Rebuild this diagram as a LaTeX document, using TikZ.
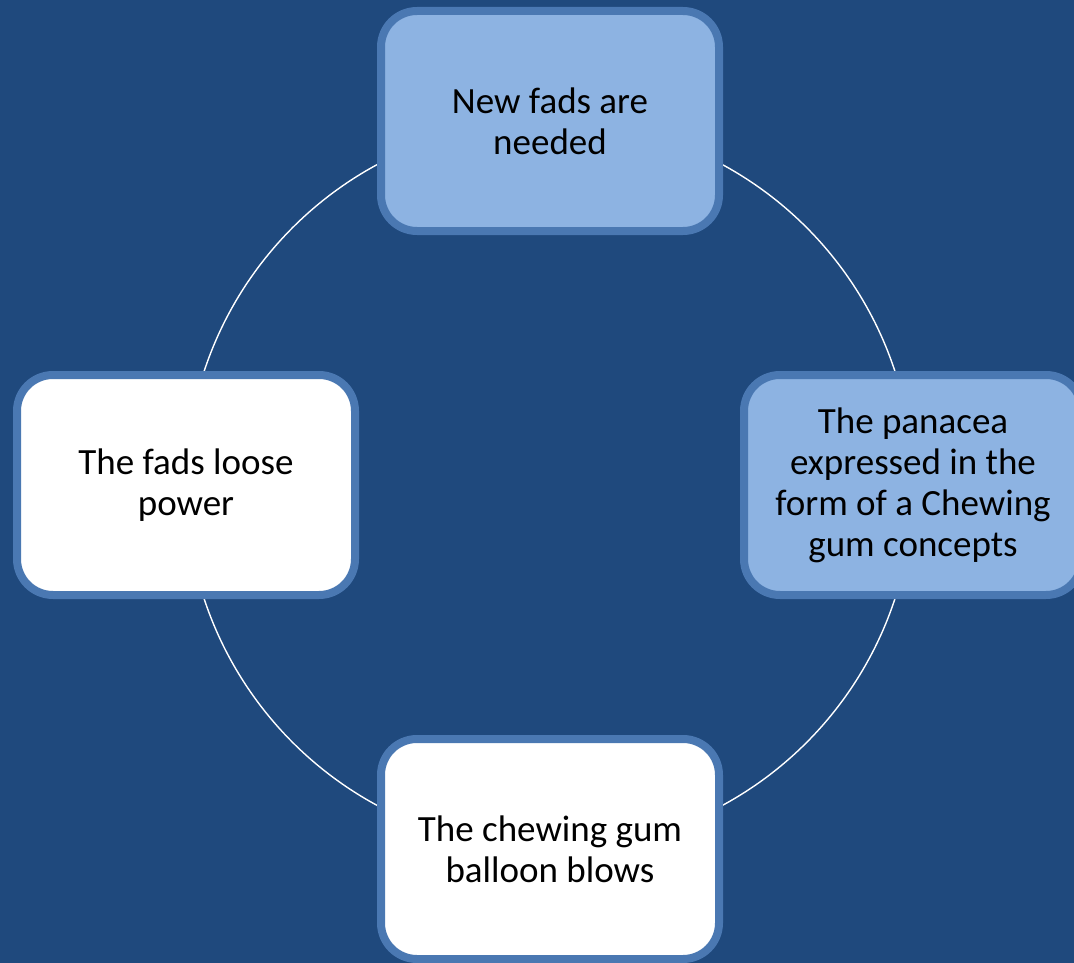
\documentclass[tikz,border=0pt]{standalone}
\usepackage{fontspec}
\setmainfont{Carlito}
\usetikzlibrary{shadows}
\definecolor{bgblue}{HTML}{1F497D}
\definecolor{boxline}{HTML}{4A78B2}
\definecolor{lightfill}{HTML}{8DB3E2}
\pgfdeclarelayer{bg}
\pgfdeclarelayer{back}
\pgfsetlayers{bg,back,main}
\tikzset{
  cyclebox/.style={draw=boxline, line width=8pt, rounded corners=36pt,
    minimum width=338pt, minimum height=220pt, inner sep=0pt, align=center,
    font=\fontsize{37}{41}\selectfont, text=black,
    drop shadow={opacity=0.35, shadow xshift=0pt, shadow yshift=-3pt}},
  lightbox/.style={cyclebox, fill=lightfill},
  whitebox/.style={cyclebox, fill=white},
  ring/.style={draw=white, line width=1.4pt}
}
\begin{document}
\begin{tikzpicture}[x=1pt,y=-1pt]
\begin{pgfonlayer}{bg}
\fill[bgblue] (0,0) rectangle (1074,963);
\end{pgfonlayer}
\useasboundingbox (0,0) rectangle (1074,963);
\node[lightbox] (top) at (550,121) {New fads are\\needed};
\node[lightbox] (right) at (913,485) {The panacea\\expressed in the\\form of a Chewing\\gum concepts};
\node[whitebox] (bottom) at (550,849) {The chewing gum\\balloon blows};
\node[whitebox] (left) at (186,485) {The fads loose\\power};
\begin{pgfonlayer}{back}
\draw[ring] (top.center) arc[start angle=270, end angle=360, x radius=363, y radius=364];
\draw[ring] (right.center) arc[start angle=0, end angle=90, x radius=363, y radius=364];
\draw[ring] (bottom.center) arc[start angle=90, end angle=180, x radius=364, y radius=364];
\draw[ring] (left.center) arc[start angle=180, end angle=270, x radius=364, y radius=364];
\end{pgfonlayer}
\end{tikzpicture}
\end{document}
